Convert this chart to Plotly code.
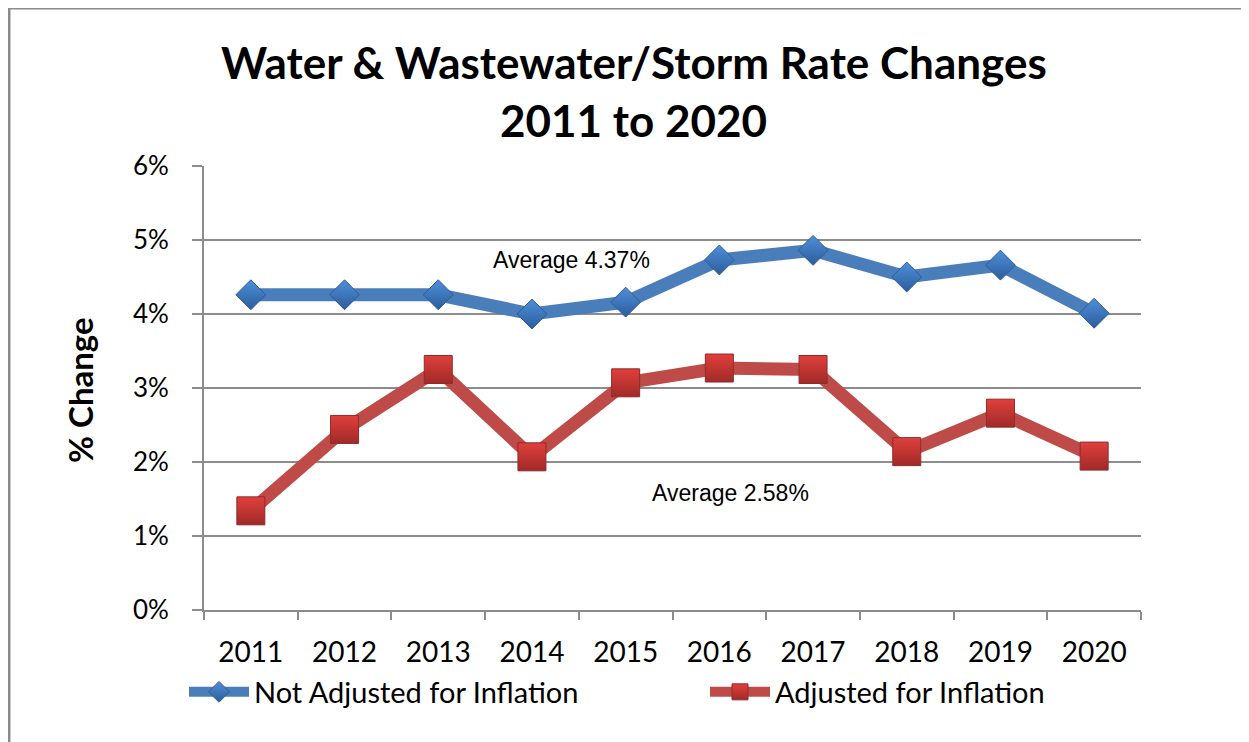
import plotly.graph_objects as go

years = ["2011", "2012", "2013", "2014", "2015", "2016", "2017", "2018", "2019", "2020"]
not_adjusted = [4.26, 4.26, 4.26, 4.00, 4.16, 4.73, 4.86, 4.50, 4.66, 4.01]
adjusted = [1.34, 2.44, 3.25, 2.07, 3.07, 3.27, 3.25, 2.14, 2.66, 2.08]
y_ticks = [0, 1, 2, 3, 4, 5, 6]
y_tick_labels = ["0%", "1%", "2%", "3%", "4%", "5%", "6%"]
title_lines = ["Water & Wastewater/Storm Rate Changes", "2011 to 2020"]
avg_labels = ["Average 4.37%", "Average 2.58%"]
series_names = ["Not Adjusted for Inflation", "Adjusted for Inflation"]

OFF = 8  # page body margin
W, H = 1249 - OFF, 742 - OFF
L, R, T, B = 204 - OFF, 1141 - OFF, 166 - OFF, 610 - OFF


def px_x(x):
    return (x - OFF - L) / (R - L)


def px_y(y):
    return (B - (y - OFF)) / (B - T)


GRID = "#8C8C8C"
FONT = "Lato"

fig = go.Figure()
fig.add_trace(go.Scatter(
    x=years, y=not_adjusted, name=series_names[0], mode="lines+markers",
    line=dict(color="#4A7EBB", width=13),
    marker=dict(symbol="diamond", size=23, color="#4E8FDA",
                gradient=dict(type="vertical", color="#2C5D9C"),
                line=dict(color="#2F5C94", width=1)),
))
fig.add_trace(go.Scatter(
    x=years, y=adjusted, name=series_names[1], mode="lines+markers",
    line=dict(color="#BE4B48", width=13),
    marker=dict(symbol="square", size=28, color="#E0403C",
                gradient=dict(type="vertical", color="#A02A28"),
                line=dict(color="#8E2C2A", width=1)),
))

fig.update_layout(
    width=W, height=H,
    margin=dict(l=L, r=W - R, t=T, b=H - B),
    paper_bgcolor="white", plot_bgcolor="white",
    font=dict(family=FONT, color="black"),
    showlegend=True,
    legend=dict(
        orientation="h", x=px_x(184), y=px_y(692), xanchor="left", yanchor="middle",
        font=dict(family=FONT, size=29, color="black"),
        itemwidth=60, entrywidth=446, entrywidthmode="pixels",
        bgcolor="rgba(0,0,0,0)", tracegroupgap=0,
    ),
    xaxis=dict(
        type="category", tickson="boundaries", ticks="outside", ticklen=8,
        tickwidth=2, tickcolor=GRID, showline=True, linecolor=GRID, linewidth=2,
        showgrid=False, tickfont=dict(family=FONT, size=28, color="black"),
        ticklabelstandoff=16, range=[-0.5, 9.5],
    ),
    yaxis=dict(
        range=[0, 6], tickvals=y_ticks, ticktext=y_tick_labels, ticks="outside", ticklen=10,
        tickwidth=2, tickcolor=GRID, showline=True, linecolor=GRID, linewidth=2,
        showgrid=True, gridcolor=GRID, gridwidth=2, zeroline=False,
        tickfont=dict(family=FONT, size=26, color="black"), ticklabelstandoff=18,
    ),
)

annotations = [
    dict(text="<b>" + title_lines[0] + "</b>", x=px_x(634), y=px_y(62)),
    dict(text="<b>" + title_lines[1] + "</b>", x=px_x(633), y=px_y(120)),
]
for a in annotations:
    a.update(xref="paper", yref="paper", showarrow=False, xanchor="center", yanchor="middle",
             font=dict(family=FONT, size=44, color="black"))

annotations.append(dict(text="<b>% Change</b>", x=px_x(80), y=px_y(390), xref="paper", yref="paper",
                        showarrow=False, textangle=-90, xanchor="center", yanchor="middle",
                        font=dict(family=FONT, size=33, color="black")))
annotations.append(dict(text=avg_labels[0], x=px_x(571), y=px_y(260), xref="paper", yref="paper",
                        showarrow=False, xanchor="center", yanchor="middle",
                        font=dict(family="Liberation Sans", size=23, color="black")))
annotations.append(dict(text=avg_labels[1], x=px_x(730), y=px_y(493), xref="paper", yref="paper",
                        showarrow=False, xanchor="center", yanchor="middle",
                        font=dict(family="Liberation Sans", size=23, color="black")))
fig.update_layout(annotations=annotations)

# outer chart frame (top and left edges visible)
fig.add_shape(type="line", xref="paper", yref="paper", x0=px_x(9), x1=px_x(1270),
              y0=px_y(8), y1=px_y(8), line=dict(color="#8B8B8B", width=3))
fig.add_shape(type="line", xref="paper", yref="paper", x0=px_x(9), x1=px_x(9),
              y0=px_y(8), y1=px_y(770), line=dict(color="#8B8B8B", width=3))

fig.write_html("out.html")
